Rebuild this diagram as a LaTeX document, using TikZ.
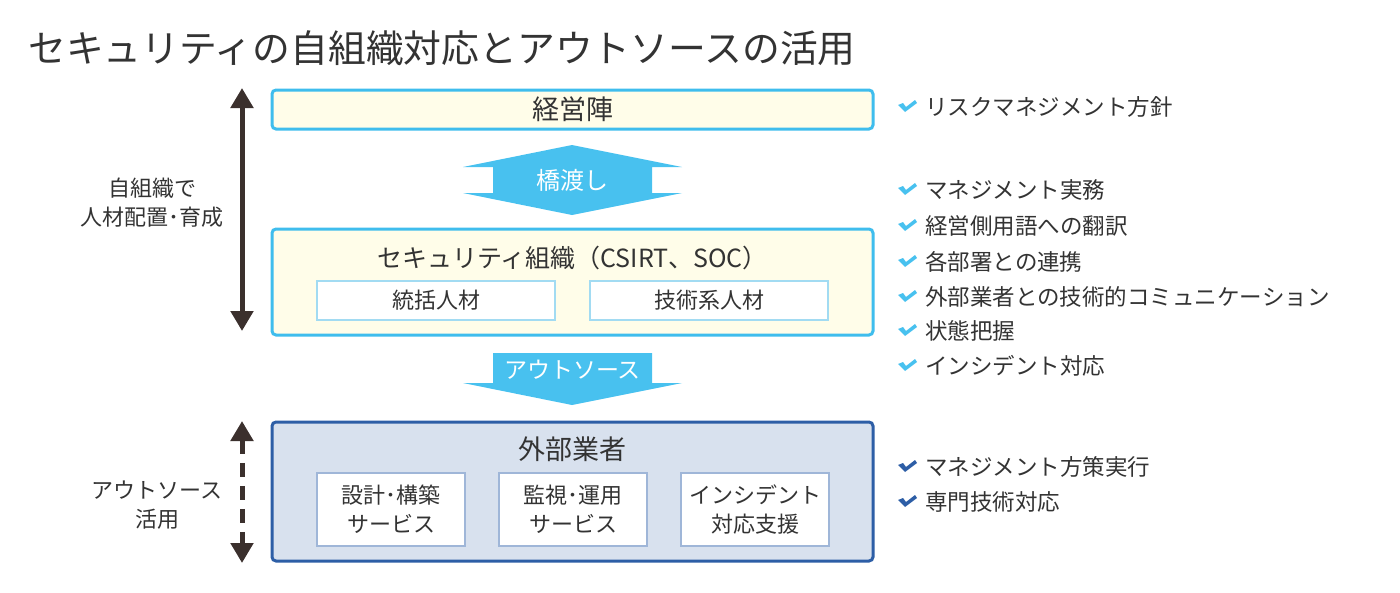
\documentclass[tikz,border=0pt]{standalone}
\usepackage{fontspec}
\setmainfont{Noto Sans CJK JP}
\usetikzlibrary{arrows.meta}
\definecolor{skyline}{HTML}{3FBDED}
\definecolor{skyfill}{HTML}{48C1EF}
\definecolor{skysoft}{HTML}{A2DBF2}
\definecolor{cream}{HTML}{FFFDE9}
\definecolor{navyline}{HTML}{2D5EA6}
\definecolor{navyfill}{HTML}{D8E1EE}
\definecolor{navysoft}{HTML}{9FB6D8}
\definecolor{ink}{HTML}{333333}
\definecolor{bark}{HTML}{3B302D}
\begin{document}
\begin{tikzpicture}[x=1pt, y=-1pt, text=ink,
  txt/.style={inner sep=0pt, font=\fontsize{22}{29}\selectfont, align=center},
  lst/.style={inner sep=0pt, font=\fontsize{22.5}{29}\selectfont, anchor=west},
  orgbox/.style={draw=skyline, fill=cream, line width=3pt, rounded corners=4pt},
  orgcell/.style={draw=skysoft, fill=white, line width=2pt},
  venbox/.style={draw=navyline, fill=navyfill, line width=3pt, rounded corners=4pt},
  vencell/.style={draw=navysoft, fill=white, line width=2pt, txt},
  lrarrow/.style={draw=bark, line width=5pt, {Triangle[width=22pt,length=20pt]}-{Triangle[width=22pt,length=20pt]}},
  chk/.pic={\fill (0,-1) -- (5,-3) -- (8,1) -- (17,-6) -- (19,-3) -- (7,6) -- cycle;}]
\useasboundingbox (0,0) rectangle (1400,592);

\node[anchor=west, inner sep=0pt, font=\fontsize{37.8}{44}\selectfont] (title) at (28,48) {セキュリティの自組織対応とアウトソースの活用};

% left side
\coordinate (ltop) at (242,88);
\coordinate (lbot) at (242,331);
\draw[lrarrow] (ltop) -- (lbot);
\node[txt] (own) at (152,203) {自組織で\\人材配置･育成};
\coordinate (otop) at (242,421);
\coordinate (obot) at (242,563);
\draw[lrarrow, dash pattern=on 14pt off 9pt] (otop) -- (obot);
\node[txt] (out) at (157,505) {アウトソース\\活用};

% management
\node[orgbox, minimum width=601pt, minimum height=39pt, font=\fontsize{27}{32}\selectfont] (mgmt) at (572.5,109.5) {経営陣};

\fill[skyfill] (572,145) -- (682,167) -- (652,167) -- (652,193) -- (682,193) -- (572,215)
  -- (463,193) -- (493,193) -- (493,167) -- (463,167) -- cycle;
\node[txt, text=white, font=\fontsize{24}{28}\selectfont] (bridge) at (572.5,180) {橋渡し};

% security organisation
\node[orgbox, minimum width=601pt, minimum height=106pt] (csirt) at (572.5,282) {};
\node[txt, font=\fontsize{25}{30}\selectfont] (csirtt) at (572.5,258) {セキュリティ組織（CSIRT、SOC）};
\node[orgcell, minimum width=238pt, minimum height=39pt, txt] (cell0) at (436,300.5) {統括人材};
\node[orgcell, minimum width=238pt, minimum height=39pt, txt] (cell1) at (709,300.5) {技術系人材};

\fill[skyfill] (493,353) -- (652,353) -- (652,383) -- (682,383) -- (572,405) -- (463,383) -- (493,383) -- cycle;
\node[txt, text=white, font=\fontsize{23}{28}\selectfont] (outs) at (572.5,370) {アウトソース};

% vendors
\node[venbox, minimum width=601pt, minimum height=139pt] (vend) at (572.5,491.5) {};
\node[txt, font=\fontsize{27}{32}\selectfont] (vendt) at (572.5,449) {外部業者};
\node[vencell, minimum width=148pt, minimum height=73pt] (svc0) at (391,509.5) {設計･構築\\サービス};
\node[vencell, minimum width=148pt, minimum height=73pt] (svc1) at (573,509.5) {監視･運用\\サービス};
\node[vencell, minimum width=148pt, minimum height=73pt] (svc2) at (755,509.5) {インシデント\\対応支援};

% right list
\pic[skyfill] at (898,106) {chk};
\node[lst] (it0) at (925,107) {リスクマネジメント方針};
\pic[skyfill] at (898,189) {chk};
\node[lst] (it1) at (925,190) {マネジメント実務};
\pic[skyfill] at (898,225) {chk};
\node[lst] (it2) at (925,226) {経営側用語への翻訳};
\pic[skyfill] at (898,261) {chk};
\node[lst] (it3) at (925,262) {各部署との連携};
\pic[skyfill] at (898,296) {chk};
\node[lst] (it4) at (925,297) {外部業者との技術的コミュニケーション};
\pic[skyfill] at (898,330) {chk};
\node[lst] (it5) at (925,331) {状態把握};
\pic[skyfill] at (898,365) {chk};
\node[lst] (it6) at (925,366) {インシデント対応};
\pic[navyline] at (898,466) {chk};
\node[lst] (ot0) at (925,467) {マネジメント方策実行};
\pic[navyline] at (898,501) {chk};
\node[lst] (ot1) at (925,502) {専門技術対応};

\end{tikzpicture}
\end{document}
